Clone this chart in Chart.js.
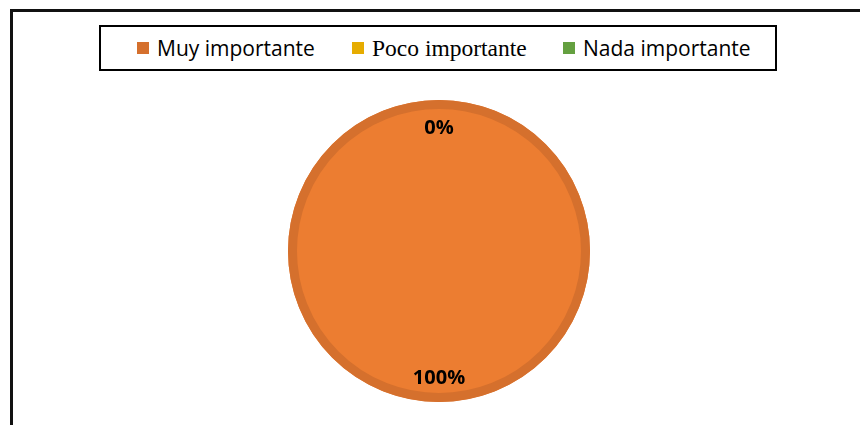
<!DOCTYPE html>
<html>
<head>
<meta charset="utf-8">
<script src="https://cdn.jsdelivr.net/npm/chart.js@4.4.0/dist/chart.umd.min.js"></script>
<style>
  html, body { margin: 0; padding: 0; background: #fff; }
  body { width: 860px; height: 425px; position: relative; overflow: hidden; }
  .frame { position: absolute; left: 10px; top: 9px; width: 900px; height: 500px;
           border-left: 3px solid #111; border-top: 3px solid #111; }
  .legend { position: absolute; left: 99px; top: 25px; width: 674px; height: 42px;
            border: 2px solid #000; }
  .item { position: absolute; top: 0; height: 42px; display: flex; align-items: center; white-space: nowrap; }
  .item .sw { width: 12px; height: 12px; margin-right: 8px; }
  .item span { font-family: "Open Sans", sans-serif; font-size: 21px; color: #000; }
  .item.serif span { font-family: "Liberation Serif", serif; font-size: 23.5px; }
  canvas { position: absolute; left: 0; top: 0; }
</style>
</head>
<body>
<div class="frame"></div>
<div class="legend" id="legend"></div>
<canvas id="pieChart" width="860" height="425"></canvas>
<script>
const categories = ['Muy importante', 'Poco importante', 'Nada importante'];
const percentages = [100, 0, 0];
const sliceColors = ['#EC7D31', '#FFC000', '#70AD47'];
const edgeColors = ['#D5702D', '#E6AC00', '#64A040'];

// legend positions in the box (px from box left)
const legendLefts = [36, 251, 462];

const legendBox = document.getElementById('legend');
categories.forEach((cat, i) => {
  const item = document.createElement('div');
  item.className = 'item' + (i === 1 ? ' serif' : '');
  item.style.left = legendLefts[i] + 'px';
  const sw = document.createElement('div');
  sw.className = 'sw';
  sw.style.background = edgeColors[i];
  const txt = document.createElement('span');
  txt.textContent = cat;
  item.appendChild(sw);
  item.appendChild(txt);
  legendBox.appendChild(item);
});

// darker rim along the outer edge of each slice (no radial edges)
const rim = {
  id: 'rim',
  afterDatasetsDraw(chart) {
    const ctx = chart.ctx;
    const meta = chart.getDatasetMeta(0);
    ctx.save();
    ctx.lineWidth = 9;
    meta.data.forEach((arc, i) => {
      const p = arc.getProps(['x', 'y', 'startAngle', 'endAngle', 'outerRadius']);
      if (p.endAngle - p.startAngle <= 0) return;
      ctx.strokeStyle = edgeColors[i];
      ctx.beginPath();
      ctx.arc(p.x, p.y, p.outerRadius - 4.5, p.startAngle, p.endAngle);
      ctx.stroke();
    });
    ctx.restore();
  }
};

const pctLabels = {
  id: 'pctLabels',
  afterDatasetsDraw(chart) {
    const ctx = chart.ctx;
    const meta = chart.getDatasetMeta(0);
    const seen = [];
    ctx.save();
    ctx.font = 'bold 20px "Open Sans", sans-serif';
    ctx.fillStyle = '#000';
    ctx.textAlign = 'center';
    ctx.textBaseline = 'middle';
    meta.data.forEach((arc, i) => {
      const p = arc.getProps(['x', 'y', 'startAngle', 'endAngle', 'outerRadius']);
      const mid = (p.startAngle + p.endAngle) / 2;
      const r = p.outerRadius * 0.83;
      const x = Math.round(p.x + Math.cos(mid) * r);
      const y = Math.round(p.y + Math.sin(mid) * r) + 2;
      const key = x + ',' + y;
      if (seen.includes(key)) return;
      seen.push(key);
      ctx.fillText(percentages[i] + '%', x, y);
    });
    ctx.restore();
  }
};

new Chart(document.getElementById('pieChart'), {
  type: 'pie',
  data: {
    labels: categories,
    datasets: [{
      data: percentages,
      backgroundColor: sliceColors,
      borderWidth: 0
    }]
  },
  options: {
    responsive: false,
    animation: false,
    layout: { padding: { top: 100, bottom: 23, left: 288, right: 270 } },
    plugins: {
      legend: { display: false },
      tooltip: { enabled: false }
    }
  },
  plugins: [rim, pctLabels]
});
</script>
</body>
</html>
